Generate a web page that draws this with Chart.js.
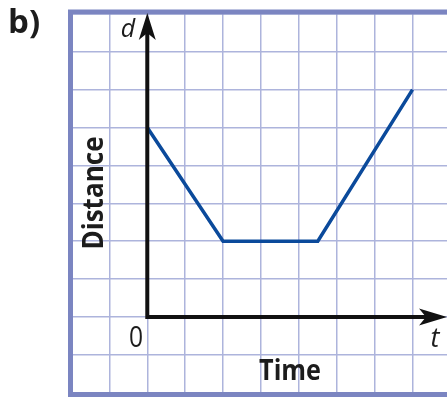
<!DOCTYPE html>
<html>
<head>
<meta charset="utf-8">
<script src="https://cdn.jsdelivr.net/npm/chart.js@4.4.1/dist/chart.umd.min.js"></script>
<style>
html,body{margin:0;padding:0;background:#fff;}
canvas{display:block;}
</style>
</head>
<body>
<canvas id="c" width="447" height="398"></canvas>
<script>
// Data
const timeValues = [0, 2, 4.5, 7];
const distanceValues = [5, 2, 2, 6];
const xGridValues = [-2, -1, 0, 1, 2, 3, 4, 5, 6, 7];
const yGridValues = [-2, -1, 0, 1, 2, 3, 4, 5, 6, 7, 8];
const xAxisLabel = 'Time';
const yAxisLabel = 'Distance';
const xVarLabel = 't';
const yVarLabel = 'd';
const originLabel = '0';
const partLabel = 'b)';

const GRID = '#adb4dc';
const FRAME = '#7b85c1';
const LINE = '#0b4a9b';
const INK = '#1c1c1c';

const points = timeValues.map((t, i) => ({ x: t, y: distanceValues[i] }));

const decor = {
  id: 'decor',
  afterDatasetsDraw(chart) {
    const ctx = chart.ctx;
    const xs = chart.scales.x, ys = chart.scales.y;
    const ox = xs.getPixelForValue(0), oy = ys.getPixelForValue(0);
    ctx.save();
    // frame
    ctx.strokeStyle = FRAME;
    ctx.lineWidth = 5;
    ctx.strokeRect(70.5, 12, 420, 382.5);
    // axes
    ctx.strokeStyle = '#111';
    ctx.fillStyle = '#111';
    ctx.lineWidth = 4;
    ctx.lineJoin = 'miter';
    ctx.beginPath();
    ctx.moveTo(ox, 30);
    ctx.lineTo(ox, oy);
    ctx.lineTo(430, oy);
    ctx.stroke();
    // y arrow
    ctx.beginPath();
    ctx.moveTo(ox, 13);
    ctx.lineTo(ox + 8.5, 40);
    ctx.lineTo(ox, 33);
    ctx.lineTo(ox - 8.5, 40);
    ctx.closePath();
    ctx.fill();
    // x arrow
    ctx.beginPath();
    ctx.moveTo(447, oy);
    ctx.lineTo(419, oy - 8.5);
    ctx.lineTo(426, oy);
    ctx.lineTo(419, oy + 8.5);
    ctx.closePath();
    ctx.fill();
    // texts
    ctx.fillStyle = INK;
    ctx.textBaseline = 'alphabetic';
    ctx.textAlign = 'center';
    ctx.font = 'italic 25px "Open Sans"';
    ctx.fillText(yVarLabel, 128, 37);
    ctx.font = 'italic 27px "Open Sans"';
    ctx.fillText(xVarLabel, 435, 347);
    ctx.font = '29px "Open Sans"';
    ctx.save();
    ctx.translate(136, 347);
    ctx.scale(0.85, 1);
    ctx.fillText(originLabel, 0, 0);
    ctx.restore();
    // Time
    ctx.save();
    ctx.font = 'bold 28px "Open Sans"';
    ctx.translate(290, 380);
    ctx.scale(0.9, 1);
    ctx.fillText(xAxisLabel, 0, 0);
    ctx.restore();
    // Distance
    ctx.save();
    ctx.font = 'bold 28px "Open Sans"';
    ctx.translate(103, 193);
    ctx.rotate(-Math.PI / 2);
    ctx.scale(0.93, 1);
    ctx.fillText(yAxisLabel, 0, 0);
    ctx.restore();
    // part label
    ctx.textAlign = 'left';
    ctx.font = 'bold 33px "Open Sans"';
    ctx.fillText(partLabel, 8, 33);
    ctx.restore();
  }
};

new Chart(document.getElementById('c'), {
  type: 'scatter',
  data: {
    datasets: [{
      data: points,
      showLine: true,
      borderColor: LINE,
      borderWidth: 3.5,
      pointRadius: 0,
      tension: 0,
      fill: false
    }]
  },
  options: {
    responsive: false,
    animation: false,
    layout: { padding: { left: 71.5, top: 13.8, right: 0, bottom: 5.2 } },
    plugins: { legend: { display: false }, tooltip: { enabled: false } },
    scales: {
      x: {
        type: 'linear', min: -2, max: 7.91,
        ticks: { display: false },
        border: { display: false },
        grid: { color: GRID, lineWidth: 1.5, drawTicks: false },
        afterBuildTicks: s => { s.ticks = xGridValues.map(v => ({ value: v })); }
      },
      y: {
        type: 'linear', min: -2, max: 8,
        ticks: { display: false },
        border: { display: false },
        grid: { color: GRID, lineWidth: 1.5, drawTicks: false },
        afterBuildTicks: s => { s.ticks = yGridValues.map(v => ({ value: v })); }
      }
    }
  },
  plugins: [decor]
});
</script>
</body>
</html>
